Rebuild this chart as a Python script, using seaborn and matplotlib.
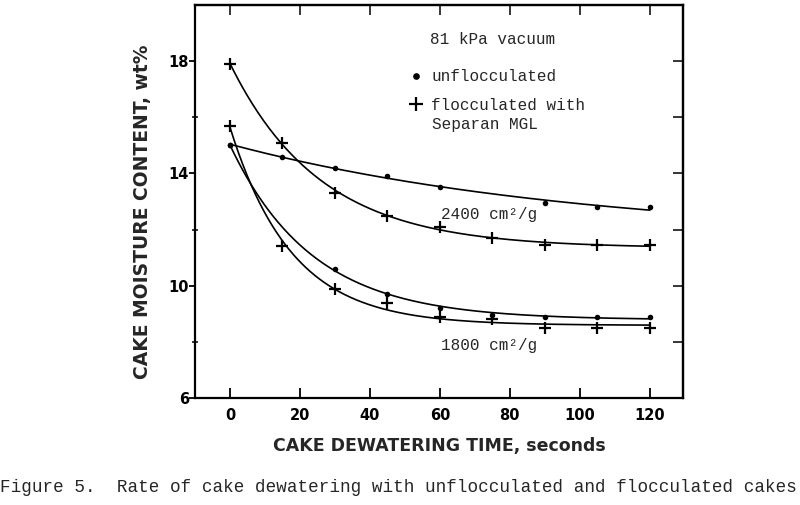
import numpy as np
import pandas as pd
import matplotlib
matplotlib.use("Agg")
import matplotlib.pyplot as plt
from matplotlib.lines import Line2D
import seaborn as sns

# ---------------- data ----------------
t_unfl_2400 = [0, 15, 30, 45, 60, 90, 105, 120]
y_unfl_2400 = [15.0, 14.6, 14.2, 13.9, 13.5, 12.95, 12.8, 12.8]

t_fl_2400 = [0, 15, 30, 45, 60, 75, 90, 105, 120]
y_fl_2400 = [17.9, 15.1, 13.3, 12.5, 12.1, 11.7, 11.45, 11.45, 11.45]

t_unfl_1800 = [0, 30, 45, 60, 75, 90, 105, 120]
y_unfl_1800 = [15.0, 10.6, 9.7, 9.2, 8.95, 8.9, 8.9, 8.9]

t_fl_1800 = [0, 15, 30, 45, 60, 75, 90, 105, 120]
y_fl_1800 = [15.7, 11.4, 9.9, 9.4, 8.9, 8.8, 8.5, 8.5, 8.5]

x_ticks = [0, 20, 40, 60, 80, 100, 120]
y_ticks = [6, 10, 14, 18]
y_minor = [8, 12, 16]

caption = "Figure 5.  Rate of cake dewatering with unflocculated and flocculated cakes"

# ---------------- smooth curves: exponential-decay fit of each series ----------------
def expfit(t, y):
    t = np.asarray(t, float); y = np.asarray(y, float)
    best = None
    for c in np.linspace(2, 120, 1181):
        A = np.column_stack([np.ones_like(t), np.exp(-t / c)])
        coef, *_ = np.linalg.lstsq(A, y, rcond=None)
        r = np.sum((A @ coef - y) ** 2)
        if best is None or r < best[0]:
            best = (r, c, coef)
    _, c, coef = best
    tt = np.linspace(t.min(), t.max(), 300)
    return tt, coef[0] + coef[1] * np.exp(-tt / c)

series = {
    "unfl_2400": (t_unfl_2400, y_unfl_2400, "o"),
    "fl_2400": (t_fl_2400, y_fl_2400, "+"),
    "unfl_1800": (t_unfl_1800, y_unfl_1800, "o"),
    "fl_1800": (t_fl_1800, y_fl_1800, "+"),
}
curve_rows, pt_rows = [], []
for name, (t, y, m) in series.items():
    tt, yy = expfit(t, y)
    curve_rows.append(pd.DataFrame({"t": tt, "y": yy, "series": name}))
    pt_rows.append(pd.DataFrame({"t": t, "y": y, "series": name, "kind": m}))
curves = pd.concat(curve_rows, ignore_index=True)
points = pd.concat(pt_rows, ignore_index=True)

# ---------------- figure ----------------
sns.set_theme(style="ticks")
plt.rcParams["font.family"] = ["DejaVu Sans"]

fig = plt.figure(figsize=(8.0, 5.05), dpi=100)
ax = fig.add_axes([195 / 800, 1 - 398 / 505, 488 / 800, 393 / 505])

sns.lineplot(data=curves, x="t", y="y", units="series", estimator=None,
             color="black", linewidth=1.2, ax=ax, legend=False, sort=False)
sns.scatterplot(data=points[points.kind == "o"], x="t", y="y", marker="o",
                color="black", s=16, linewidth=0, ax=ax, legend=False, zorder=3)
sns.scatterplot(data=points[points.kind == "+"], x="t", y="y", marker="+",
                color="black", s=85, linewidth=1.6, ax=ax, legend=False, zorder=3)

ax.set_xlim(-10, 129.5)
ax.set_ylim(6, 20)

for sp in ax.spines.values():
    sp.set_visible(True)
    sp.set_linewidth(1.6)
    sp.set_color("black")

tick_font = dict(fontsize=10.5, fontweight="bold", family="DejaVu Sans")
ax.set_xticks(x_ticks)
ax.set_xticklabels([str(v) for v in x_ticks], **tick_font)
ax.set_yticks(y_ticks)
ax.set_yticklabels([str(v) for v in y_ticks], **tick_font)
ax.set_yticks(y_minor, minor=True)
ax.tick_params(axis="x", direction="in", length=7, width=1.3, pad=7, colors="black")
ax.tick_params(axis="y", which="major", direction="out", length=4, width=1.3, pad=0.5, colors="black")
ax.tick_params(axis="y", which="minor", direction="inout", length=4, width=1.3)

sec_top = ax.secondary_xaxis("top")
sec_top.set_xticks(x_ticks)
sec_top.tick_params(direction="in", length=7, width=1.3, labeltop=False)
sec_top.spines["top"].set_linewidth(1.6)
sec_right = ax.secondary_yaxis("right")
sec_right.set_yticks(sorted(y_ticks + y_minor))
sec_right.tick_params(direction="in", length=7, width=1.3, labelright=False)
sec_right.spines["right"].set_linewidth(1.6)

ax.set_xlabel("CAKE DEWATERING TIME, seconds", fontsize=12.5, fontweight="bold", labelpad=10)
ax.set_ylabel("CAKE MOISTURE CONTENT, wt%", fontsize=13.5, fontweight="bold", labelpad=9)
ax.yaxis.set_label_coords(-0.088, 0.475)

mono = "Liberation Mono"
ax.text(0.4816, 0.911, "81 kPa vacuum", transform=ax.transAxes, family=mono,
        fontsize=11.5, va="center", ha="left")
ax.text(60.3, 12.54, "2400 cm²/g", family=mono, fontsize=11.5, va="center", ha="left")
ax.text(60.3, 7.87, "1800 cm²/g", family=mono, fontsize=11.5, va="center", ha="left")

handles = [
    Line2D([], [], marker="o", color="black", linestyle="none", markersize=3.8),
    Line2D([], [], marker="+", color="black", linestyle="none", markersize=10, markeredgewidth=1.6),
]
leg = ax.legend(handles, ["unflocculated", "flocculated with"],
                loc="upper left", bbox_to_anchor=(0.437, 0.836), frameon=False,
                prop={"family": mono, "size": 11.5}, handlelength=1.0,
                handletextpad=0.45, labelspacing=0.85, borderpad=0, borderaxespad=0)
ax.text((432 - 195) / 488, 1 - (124 - 5) / 393, "Separan MGL", transform=ax.transAxes,
        family=mono, fontsize=11.5, va="center", ha="left")

fig.text(0.0, 1 - 487 / 505, caption, family=mono, fontsize=12.7, va="center", ha="left")

fig.savefig("out.png", dpi=100)
